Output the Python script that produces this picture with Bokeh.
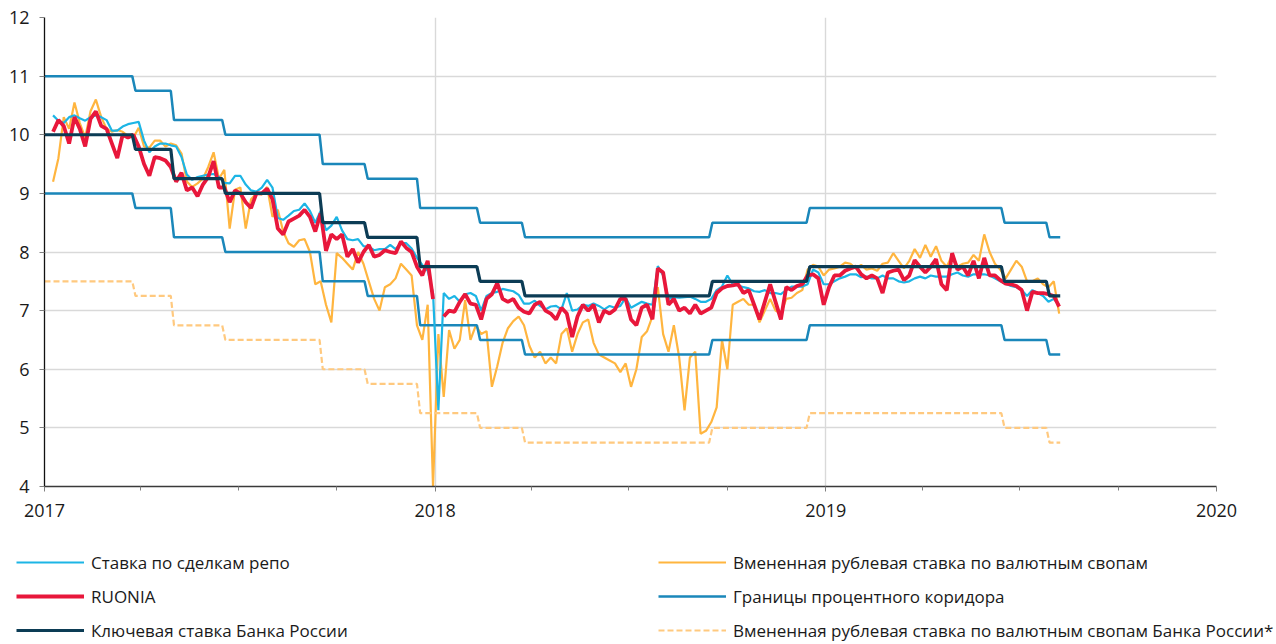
import numpy as np
import pandas as pd
from bokeh.plotting import figure
from bokeh.models import (Range1d, FixedTicker, DatetimeTickFormatter, Legend,
                          LegendItem, ColumnDataSource)
from bokeh.embed import file_html
from bokeh.resources import INLINE

nan = float("nan")

# ---- observed series (sampled every 5 days from 2017-01-09) ----
obs_start = "2017-01-09"
obs_step_days = 5

repo_rate = [
    10.33, 10.24, 10.2, 10.3, 10.33, 10.28, 10.24, 10.3, 10.33, 10.3,
    10.25, 10.07, 10.07, 10.14, 10.18, 10.2, 10.22, 9.9, 9.7, 9.8,
    9.85, 9.85, 9.82, 9.8, 9.62, 9.32, 9.23, 9.28, 9.3, 9.32,
    9.33, 9.28, 9.18, 9.17, 9.3, 9.3, 9.15, 9.05, 9.03, 9.1,
    9.23, 9.1, 8.58, 8.55, 8.62, 8.7, 8.72, 8.83, 8.7, 8.5,
    8.7, 8.37, 8.45, 8.6, 8.37, 8.22, 8.2, 8.22, 8.1, 8.09,
    8.03, 8.05, 8.05, 8.12, 8.05, 8.15, 8.15, 8.06, 7.9, 7.78,
    7.68, 7.3, 5.3, 7.3, 7.2, 7.25, 7.15, 7.28, 7.3, 7.25,
    7.0, 7.25, 7.3, 7.32, 7.37, 7.35, 7.33, 7.27, 7.12, 7.12,
    7.17, 7.08, 7.02, 7.07, 7.08, 7.02, 7.3, 7.0, 7.02, 7.1,
    7.08, 7.12, 7.08, 7.02, 7.08, 7.05, 7.08, 7.22, 7.05, 7.1,
    7.15, 7.12, 7.1, 7.76, 7.6, 7.2, 7.23, 7.22, 7.23, 7.24,
    7.2, 7.15, 7.15, 7.2, 7.35, 7.41, 7.6, 7.45, 7.43, 7.4,
    7.38, 7.33, 7.32, 7.35, 7.3, 7.3, 7.28, 7.35, 7.41, 7.41,
    7.41, 7.45, 7.7, 7.65, 7.45, 7.45, 7.5, 7.55, 7.58, 7.62,
    7.62, 7.57, 7.58, 7.55, 7.55, 7.6, 7.55, 7.55, 7.5, 7.48,
    7.5, 7.55, 7.58, 7.55, 7.6, 7.58, 7.58, 7.58, 7.62, 7.65,
    7.6, 7.58, 7.62, 7.62, 7.62, 7.6, 7.55, 7.5, 7.46, 7.42,
    7.4, 7.35, 7.25, 7.35, 7.3, 7.25, 7.15, 7.2, 7.1,
]

ruonia = [
    10.05, 10.25, 10.15, 9.85, 10.3, 10.1, 9.8, 10.27, 10.4, 10.15,
    10.1, 9.85, 9.6, 10.0, 9.95, 10.0, 9.8, 9.5, 9.3, 9.62,
    9.6, 9.56, 9.45, 9.2, 9.35, 9.05, 9.1, 8.95, 9.15, 9.28,
    9.55, 9.1, 9.1, 8.85, 9.05, 9.0, 8.85, 8.75, 9.0, 9.0,
    9.08, 8.9, 8.4, 8.3, 8.52, 8.57, 8.62, 8.72, 8.6, 8.35,
    8.66, 8.02, 8.3, 8.22, 8.3, 7.92, 8.05, 7.82, 8.0, 8.12,
    7.92, 7.95, 8.03, 8.0, 7.98, 8.18, 8.07, 8.0, 7.75, 7.6,
    7.85, 7.2, nan, 6.9, 7.0, 6.98, 7.15, 7.28, 7.12, 7.1,
    6.85, 7.2, 7.28, 7.47, 7.2, 7.15, 7.2, 7.05, 6.98, 6.95,
    7.1, 7.15, 7.0, 6.95, 6.85, 7.05, 6.95, 6.55, 6.9, 7.1,
    7.0, 7.1, 6.8, 7.0, 6.95, 7.02, 7.2, 7.2, 6.85, 6.75,
    7.05, 7.1, 6.85, 7.72, 7.65, 7.1, 7.2, 7.0, 7.05, 6.95,
    7.1, 6.95, 7.0, 7.05, 7.3, 7.38, 7.42, 7.43, 7.45, 7.3,
    7.35, 7.1, 6.85, 7.15, 7.45, 7.15, 6.85, 7.4, 7.35, 7.42,
    7.45, 7.6, 7.62, 7.55, 7.1, 7.4, 7.6, 7.6, 7.68, 7.72,
    7.75, 7.62, 7.55, 7.6, 7.55, 7.3, 7.65, 7.68, 7.7, 7.52,
    7.6, 7.86, 7.75, 7.65, 7.75, 7.88, 7.45, 7.35, 7.98, 7.7,
    7.75, 7.6, 7.85, 7.55, 7.9, 7.6, 7.6, 7.52, 7.46, 7.45,
    7.42, 7.35, 7.0, 7.32, 7.3, 7.3, 7.28, 7.25, 7.07,
]

fx_swap_rate = [
    9.2, 9.6, 10.3, 10.1, 10.55, 10.2, 9.95, 10.4, 10.6, 10.3,
    10.1, 10.05, 10.08, 10.05, 9.98, 9.95, 10.12, 9.8, 9.78, 9.9,
    9.9, 9.8, 9.85, 9.82, 9.68, 9.2, 9.11, 9.17, 9.25, 9.45,
    9.7, 9.25, 9.4, 8.4, 9.06, 9.1, 8.4, 8.9, 9.0, 8.98,
    9.11, 8.6, 8.72, 8.35, 8.15, 8.09, 8.2, 8.22, 8.0, 7.45,
    7.5, 7.1, 6.8, 7.98, 7.9, 7.8, 7.7, 8.0, 7.8, 7.5,
    7.2, 7.0, 7.4, 7.45, 7.55, 7.8, 7.7, 7.6, 6.75, 6.5,
    7.1, 4.0, 6.6, 5.53, 6.67, 6.35, 6.5, 7.18, 6.5, 6.75,
    6.6, 6.65, 5.7, 6.05, 6.45, 6.7, 6.82, 6.9, 6.75, 6.4,
    6.2, 6.3, 6.1, 6.2, 6.1, 6.6, 6.7, 6.3, 6.6, 6.8,
    6.85, 6.45, 6.25, 6.2, 6.15, 6.1, 5.95, 6.1, 5.7, 6.0,
    6.55, 6.65, 6.9, 7.4, 6.6, 6.3, 6.75, 6.2, 5.3, 6.2,
    6.3, 4.9, 4.95, 5.1, 5.35, 6.5, 6.0, 7.1, 7.15, 7.2,
    7.1, 7.1, 6.8, 7.0, 7.2, 7.0, 6.95, 7.2, 7.22, 7.3,
    7.35, 7.7, 7.78, 7.75, 7.6, 7.7, 7.72, 7.75, 7.82, 7.8,
    7.72, 7.78, 7.7, 7.72, 7.68, 7.8, 7.82, 7.98, 7.85, 7.72,
    7.85, 8.05, 7.9, 8.12, 7.92, 8.1, 7.85, 7.75, 7.95, 7.75,
    7.8, 7.82, 7.95, 7.85, 8.3, 8.0, 7.8, 7.7, 7.55, 7.7,
    7.85, 7.75, 7.5, 7.5, 7.55, 7.45, 7.4, 7.5, 6.95,
]

# ---- policy step series ----
policy_dates = ["2017-01-01", "2017-03-27", "2017-05-02", "2017-06-19", "2017-09-18",
                "2017-10-30", "2017-12-18", "2018-02-12", "2018-03-26", "2018-09-17",
                "2018-12-17", "2019-06-17", "2019-07-29"]
key_rate = [10.0, 9.75, 9.25, 9.0, 8.5, 8.25, 7.75, 7.5, 7.25, 7.5, 7.75, 7.5, 7.25]
corridor_upper = [11.0, 10.75, 10.25, 10.0, 9.5, 9.25, 8.75, 8.5, 8.25, 8.5, 8.75, 8.5, 8.25]
corridor_lower = [9.0, 8.75, 8.25, 8.0, 7.5, 7.25, 6.75, 6.5, 6.25, 6.5, 6.75, 6.5, 6.25]
cbr_swap_rate = [7.5, 7.25, 6.75, 6.5, 6.0, 5.75, 5.25, 5.0, 4.75, 5.0, 5.25, 5.0, 4.75]
policy_end = "2019-08-08"

year_ticks = ["2017-01-01", "2018-01-01", "2019-01-01", "2020-01-01"]
quarter_ticks = ["2017-04-01", "2017-07-01", "2017-10-01", "2018-04-01", "2018-07-01",
                 "2018-10-01", "2019-04-01", "2019-07-01", "2019-10-01"]
y_ticks = [4, 5, 6, 7, 8, 9, 10, 11, 12]

labels = ["Ставка по сделкам репо", "RUONIA", "Ключевая ставка Банка России",
          "Вмененная рублевая ставка по валютным свопам", "Границы процентного коридора",
          "Вмененная рублевая ставка по валютным свопам Банка России*"]

FONT = "Open Sans"

styles = {
    "repo": dict(line_color="#1CB5E5", line_width=2.2),
    "ruonia": dict(line_color="#E8173B", line_width=3.8),
    "key": dict(line_color="#0C3C55", line_width=3.2),
    "swap": dict(line_color="#FFB53F", line_width=2.2),
    "corr": dict(line_color="#1A87BA", line_width=2.5),
    "cbr": dict(line_color="#FFC97F", line_width=2.2, line_dash="6 3"),
}


def ms(d):
    return pd.Timestamp(d).value / 1e6


def step_points(dates, values, end):
    xs, ys = [], []
    for k, (d, v) in enumerate(zip(dates, values)):
        t = pd.Timestamp(d)
        if k > 0:
            xs.append(t - pd.Timedelta(days=3))
            ys.append(values[k - 1])
        xs.append(t)
        ys.append(v)
    xs.append(pd.Timestamp(end))
    ys.append(values[-1])
    return xs, ys


obs_dates = pd.date_range(obs_start, periods=len(repo_rate), freq=f"{obs_step_days}D")
obs = ColumnDataSource(dict(x=obs_dates, repo=np.array(repo_rate),
                            ruonia=np.array(ruonia), swap=np.array(fx_swap_rate)))

kx, ky = step_points(policy_dates, key_rate, policy_end)
_, uy = step_points(policy_dates, corridor_upper, policy_end)
_, ly = step_points(policy_dates, corridor_lower, policy_end)
_, sy = step_points(policy_dates, cbr_swap_rate, policy_end)


def draw_series(fig):
    r = {}
    r["swap"] = fig.line("x", "swap", source=obs, **styles["swap"])
    r["cbr"] = fig.line(kx, sy, **styles["cbr"])
    r["corr"] = fig.multi_line([kx, kx], [uy, ly], **styles["corr"])
    r["repo"] = fig.line("x", "repo", source=obs, **styles["repo"])
    r["ruonia"] = fig.line("x", "ruonia", source=obs, **styles["ruonia"])
    r["key"] = fig.line(kx, ky, **styles["key"])
    return r


p = figure(width=1276, height=530, x_axis_type="datetime",
           x_range=Range1d(ms(year_ticks[0]), ms(year_ticks[-1])),
           y_range=Range1d(4, 12),
           output_backend="svg", toolbar_location=None,
           min_border_left=44, min_border_right=60, min_border_top=17, min_border_bottom=44)
p.outline_line_color = None
p.background_fill_color = "white"
p.border_fill_color = "white"
draw_series(p)

# axes
p.xaxis.ticker = FixedTicker(ticks=[ms(t) for t in year_ticks],
                             minor_ticks=[ms(t) for t in quarter_ticks])
p.xaxis.formatter = DatetimeTickFormatter(years="%Y", months="%Y", days="%Y",
                                          hours="%Y", hourmin="%Y")
p.yaxis.ticker = FixedTicker(ticks=y_ticks)
for ax in (p.xaxis, p.yaxis):
    ax.major_label_text_font = FONT
    ax.major_label_text_font_size = "18px"
    ax.major_label_text_color = "#1a1a1a"
    ax.major_tick_in = 0
    ax.major_tick_out = 5
    ax.minor_tick_in = 0
p.xaxis.minor_tick_out = 4
p.xaxis.axis_line_color = "#3a3a3a"
p.xaxis.axis_line_width = 1.5
p.xaxis.major_tick_line_color = "#808080"
p.xaxis.minor_tick_line_color = "#808080"
p.xaxis.major_label_standoff = 12
p.yaxis.axis_line_color = "#111111"
p.yaxis.axis_line_width = 1.3
p.yaxis.major_tick_line_color = "#808080"
p.yaxis.minor_tick_line_color = None
p.yaxis.major_label_standoff = 10

p.xgrid.grid_line_color = "#d9d9d9"
p.xgrid.grid_line_width = 1.4
p.ygrid.grid_line_color = "#d9d9d9"
p.ygrid.grid_line_width = 1.4

# ---- legend strip: a second root whose view window lies outside the data ----
lg = figure(width=1276, height=114, output_backend="svg", toolbar_location=None,
            x_axis_location=None, y_axis_location=None,
            x_range=Range1d(0, 1), y_range=Range1d(0, 1),
            min_border_left=0, min_border_right=0, min_border_top=0, min_border_bottom=0)
lg.outline_line_color = None
lg.grid.visible = False
lg.background_fill_color = "white"
lr = draw_series(lg)
order = ["repo", "ruonia", "key", "swap", "corr", "cbr"]
legend = Legend(items=[LegendItem(label=lab, renderers=[lr[k]]) for lab, k in zip(labels, order)],
                location=(16, -1), orientation="vertical", ncols=2,
                glyph_width=68, glyph_height=30, label_standoff=7, label_width=563,
                spacing=4, padding=0, margin=0,
                border_line_color=None, background_fill_alpha=0,
                label_text_font=FONT, label_text_font_size="17px",
                label_text_color="#1a1a1a")
lg.add_layout(legend)

open("out.html", "w").write(file_html([p, lg], INLINE))
